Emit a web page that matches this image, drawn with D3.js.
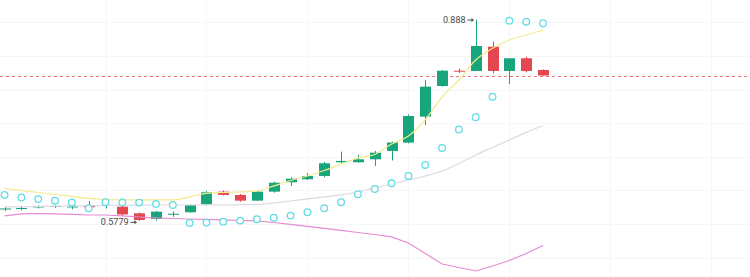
<!DOCTYPE html>
<html>
<head>
<meta charset="utf-8">
<script src="https://cdn.jsdelivr.net/npm/d3@7"></script>
<style>
  body { margin: 0; background: #fff; }
  svg { display: block; }
</style>
</head>
<body>
<div id="main"></div>
<script>
var W = 750, H = 277;

// candles, one per period
var opens  = [0.5957, 0.5965, 0.5988, 0.5996, 0.5996, 0.6011, 0.6011, 0.6000, 0.5898, 0.5810, 0.5880,
              0.5914, 0.6037, 0.6232, 0.6181, 0.6093, 0.6232, 0.6377, 0.6423, 0.6474, 0.6685, 0.6685,
              0.6731, 0.6860, 0.6988, 0.7389, 0.7862, 0.8098, 0.8094, 0.8469, 0.8094, 0.8290, 0.8109];
var highs  = [0.6003, 0.6011, 0.6019, 0.6019, 0.6057, 0.6088, 0.6043, 0.6011, 0.5911, 0.5934, 0.5926,
              0.6034, 0.6242, 0.6251, 0.6196, 0.6242, 0.6386, 0.6454, 0.6516, 0.6690, 0.6849, 0.6799,
              0.6860, 0.7003, 0.7423, 0.7955, 0.8109, 0.8132, 0.8880, 0.8546, 0.8294, 0.8314, 0.8117];
var lows   = [0.5934, 0.5942, 0.5972, 0.5980, 0.5957, 0.5980, 0.5972, 0.5857, 0.5779, 0.5787, 0.5842,
              0.5906, 0.6026, 0.6173, 0.6077, 0.6088, 0.6216, 0.6320, 0.6412, 0.6454, 0.6670, 0.6680,
              0.6628, 0.6713, 0.6975, 0.7261, 0.7852, 0.8063, 0.8094, 0.8058, 0.7893, 0.8074, 0.8021];
var closes = [0.5972, 0.5980, 0.6011, 0.6011, 0.6003, 0.5992, 0.6026, 0.5880, 0.5795, 0.5923, 0.5891,
              0.6026, 0.6222, 0.6181, 0.6093, 0.6232, 0.6370, 0.6432, 0.6474, 0.6670, 0.6706, 0.6731,
              0.6833, 0.6991, 0.7399, 0.7852, 0.8098, 0.8083, 0.8479, 0.8094, 0.8290, 0.8094, 0.8024];

// indicator lines
var maFast = [0.6281, 0.6250, 0.6219, 0.6188, 0.6158, 0.6127, 0.6111, 0.6104, 0.6104, 0.6104, 0.6104,
              0.6150, 0.6204, 0.6219, 0.6227, 0.6242, 0.6320, 0.6404, 0.6474, 0.6559, 0.6659, 0.6752,
              0.6806, 0.6968, 0.7091, 0.7338, 0.7693, 0.7955, 0.8263, 0.8444, 0.8572, 0.8649, 0.8726];
var maSlow = [0.5996, 0.5999, 0.6004, 0.6007, 0.6011, 0.6014, 0.6019, 0.6022, 0.6024, 0.6026, 0.6026,
              0.6026, 0.6026, 0.6026, 0.6030, 0.6034, 0.6057, 0.6088, 0.6119, 0.6150, 0.6181, 0.6227,
              0.6289, 0.6350, 0.6412, 0.6474, 0.6551, 0.6667, 0.6798, 0.6914, 0.7030, 0.7146, 0.7253];
var lowerBand = [0.5857, 0.5888, 0.5895, 0.5888, 0.5880, 0.5872, 0.5872, 0.5857, 0.5841, 0.5826, 0.5818,
                 0.5810, 0.5803, 0.5795, 0.5787, 0.5780, 0.5756, 0.5726, 0.5695, 0.5664, 0.5633, 0.5602,
                 0.5571, 0.5533, 0.5440, 0.5278, 0.5116, 0.5062, 0.5008, 0.5085, 0.5170, 0.5278, 0.5402];
var sar = [0.6181, 0.6142, 0.6117, 0.6092, 0.6065, 0.5976, 0.6069, 0.6065, 0.6063, 0.6043, 0.6026,
           0.5750, 0.5754, 0.5769, 0.5785, 0.5807, 0.5831, 0.5862, 0.5914, 0.5976, 0.6069, 0.6192,
           0.6273, 0.6361, 0.6474, 0.6644, 0.6906, 0.7191, 0.7380, 0.7697, 0.8870, 0.8854, 0.8830];

// faint grid
var gridPrices = [0.885, 0.8325, 0.78, 0.729, 0.677, 0.626, 0.5735, 0.521];
var gridPeriods = [6, 12, 18, 24, 30, 36, 42];

var lastPrice = closes[closes.length - 1];

var upColor = "#17a57b", downColor = "#e4474f";

var x = d3.scaleLinear().domain([-0.27, 44.3]).range([0, W]);
var y = d3.scaleLinear().domain([0.4915, 0.9189]).range([H, 0]);
var bodyW = 11;

var svg = d3.select("#main").append("svg")
    .attr("width", W)
    .attr("height", H);

svg.append("rect").attr("width", W).attr("height", H).attr("fill", "#fff");

// grid
var grid = svg.append("g").attr("stroke", "#f6f6f6").attr("stroke-width", 1);
grid.selectAll(".gh").data(gridPrices).enter().append("line")
    .attr("x1", 0).attr("x2", W)
    .attr("y1", function(d) { return Math.round(y(d)) + 0.5; })
    .attr("y2", function(d) { return Math.round(y(d)) + 0.5; });
grid.selectAll(".gv").data(gridPeriods).enter().append("line")
    .attr("y1", 0).attr("y2", H)
    .attr("x1", function(d) { return Math.round(x(d)) + 0.5; })
    .attr("x2", function(d) { return Math.round(x(d)) + 0.5; });

// last price line
svg.append("line")
    .attr("x1", 0).attr("x2", W)
    .attr("y1", Math.round(y(lastPrice)) + 0.5)
    .attr("y2", Math.round(y(lastPrice)) + 0.5)
    .attr("stroke", "#e8777c")
    .attr("stroke-width", 1)
    .attr("stroke-dasharray", "3,3");

// candles
var candles = d3.range(opens.length).map(function(i) {
    return {i: i, o: opens[i], h: highs[i], l: lows[i], c: closes[i]};
});
var cg = svg.append("g").selectAll("g").data(candles).enter().append("g")
    .attr("fill", function(d) { return d.c >= d.o ? upColor : downColor; })
    .attr("stroke", function(d) { return d.c >= d.o ? upColor : downColor; });
cg.append("line")
    .attr("x1", function(d) { return Math.round(x(d.i)) + 0.5; })
    .attr("x2", function(d) { return Math.round(x(d.i)) + 0.5; })
    .attr("y1", function(d) { return y(d.h); })
    .attr("y2", function(d) { return y(d.l); })
    .attr("stroke-width", 1);
cg.append("rect")
    .attr("x", function(d) { return Math.round(x(d.i)) + 0.5 - bodyW / 2; })
    .attr("width", bodyW)
    .attr("y", function(d) { return y(Math.max(d.o, d.c)); })
    .attr("height", function(d) { return Math.max(1, Math.abs(y(d.o) - y(d.c))); })
    .attr("stroke", "none");

// indicator lines
function drawLine(values, color, curve) {
    var line = d3.line()
        .x(function(d, i) { return x(i); })
        .y(function(d) { return y(d); })
        .curve(curve);
    svg.append("path")
        .datum(values)
        .attr("d", line)
        .attr("fill", "none")
        .attr("stroke", color)
        .attr("stroke-width", 1.2);
}
drawLine(maSlow, "#dcd9e4", d3.curveMonotoneX);
drawLine(lowerBand, "#e58bd3", d3.curveLinear);
drawLine(maFast, "#f4ea8c", d3.curveMonotoneX);

// parabolic SAR
svg.append("g").selectAll("circle").data(sar).enter().append("circle")
    .attr("cx", function(d, i) { return x(i); })
    .attr("cy", function(d) { return y(d); })
    .attr("r", 3.3)
    .attr("fill", "#fff")
    .attr("stroke", "#62dbe6")
    .attr("stroke-width", 1.3);

// high / low markers
var hiIdx = d3.maxIndex(highs), loIdx = d3.minIndex(lows);
function marker(idx, value, label) {
    var cx = Math.round(x(idx)) + 0.5, cy = y(value);
    var g = svg.append("g");
    g.append("text")
        .attr("x", cx - 11)
        .attr("y", cy)
        .attr("dy", "0.35em")
        .attr("text-anchor", "end")
        .attr("font-family", "Roboto, 'Liberation Sans', sans-serif")
        .attr("font-size", 9)
        .attr("fill", "#4a4a4a")
        .text(label);
    g.append("line")
        .attr("x1", cx - 9).attr("x2", cx - 4)
        .attr("y1", cy).attr("y2", cy)
        .attr("stroke", "#4a4a4a").attr("stroke-width", 1);
    g.append("path")
        .attr("d", "M" + (cx - 2.5) + "," + cy + "L" + (cx - 5) + "," + (cy - 2) + "L" + (cx - 5) + "," + (cy + 2) + "Z")
        .attr("fill", "#4a4a4a");
}
marker(hiIdx, highs[hiIdx], "0.888");
marker(loIdx, lows[loIdx] - 0.002, "0.5779");
</script>
</body>
</html>
